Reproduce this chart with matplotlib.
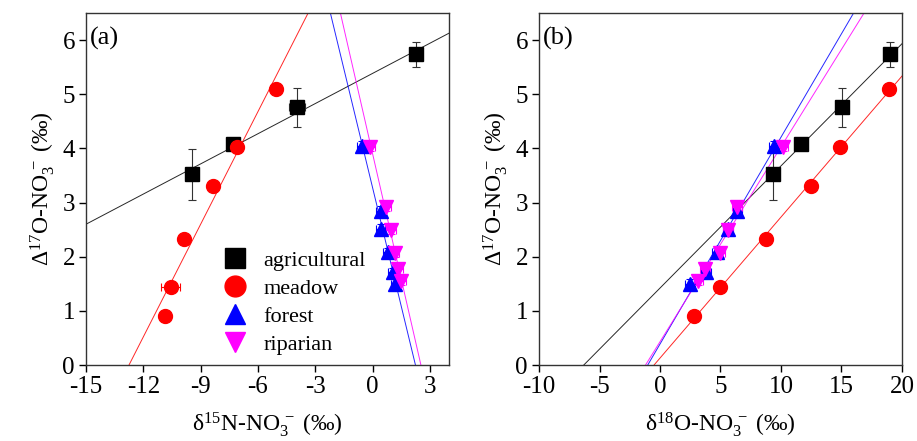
import numpy as np
import matplotlib
matplotlib.use("Agg")
import matplotlib.pyplot as plt

plt.rcParams['font.family'] = ['Liberation Serif', 'DejaVu Serif']
plt.rcParams['mathtext.fontset'] = 'custom'
plt.rcParams['mathtext.rm'] = 'Liberation Serif'
plt.rcParams['mathtext.it'] = 'Liberation Serif:italic'
plt.rcParams['axes.unicode_minus'] = False

# ---- data ----
groups = ['agricultural', 'meadow', 'forest', 'riparian']
colors = ['black', 'red', 'blue', 'magenta']
markers = ['s', 'o', '^', 'v']

# Delta17O values (shared by both panels)
agri_d17 = [3.52, 4.09, 4.76, 5.74]
mead_d17 = [0.91, 1.45, 2.33, 3.31, 4.03, 5.10]
fore_d17 = [4.05, 2.85, 2.52, 2.08, 1.72, 1.50]
ripa_d17 = [4.03, 2.92, 2.50, 2.07, 1.77, 1.55]

# d15N values (panel a)
agri_d15 = [-9.45, -7.32, -3.97, 2.25]
mead_d15 = [-10.86, -10.57, -9.87, -8.33, -7.11, -5.05]
fore_d15 = [-0.55, 0.45, 0.42, 0.82, 1.05, 1.20]
ripa_d15 = [-0.13, 0.72, 0.98, 1.15, 1.35, 1.50]

# d18O values (panel b)
agri_d18 = [9.35, 11.63, 15.05, 19.04]
mead_d18 = [2.83, 4.95, 8.80, 12.46, 14.86, 18.93]
fore_d18 = [9.45, 6.40, 5.64, 4.68, 3.80, 2.48]
ripa_d18 = [10.18, 6.39, 5.64, 4.96, 3.72, 3.17]

# error bars
agri_d17_err = [0.47, 0.05, 0.36, 0.23]
agri_d15_err = [0.1, 0.1, 0.42, 0.1]
agri_d18_err = [0.5, 0.2, 0.3, 0.2]
mead_d17_err = [0.05, 0.05, 0.08, 0.05, 0.05, 0.05]
mead_d15_err = [0.1, 0.5, 0.2, 0.1, 0.2, 0.1]
mead_d18_err = [0.1, 0.1, 0.4, 0.1, 0.1, 0.1]
small_y_err = [0.08] * 6
small_x_err_a = [0.25] * 6
small_x_err_b = [0.4] * 6

fig = plt.figure(figsize=(9.17, 4.41), dpi=100)
axa = fig.add_axes([0.0938, 0.1723, 0.3958, 0.798])
axb = fig.add_axes([0.5878, 0.1723, 0.3958, 0.798])

def style(ax, xlim, xticks):
    ax.set_xlim(*xlim)
    ax.set_ylim(0, 6.5)
    ax.set_xticks(xticks)
    ax.set_yticks(range(0, 7))
    ax.tick_params(direction='out', length=5, width=1, labelsize=18,
                   top=False, right=False, pad=3)
    for s in ax.spines.values():
        s.set_linewidth(1.0)
        s.set_color('#333333')

def draw(ax, xs, ys, xerrs, yerrs, xlim):
    xx = np.linspace(xlim[0] - 5, xlim[1] + 5, 200)
    for i, (x, y, xe, ye) in enumerate(zip(xs, ys, xerrs, yerrs)):
        c = colors[i]
        k, b = np.polyfit(x, y, 1)
        ax.plot(xx, k * xx + b, color=c, lw=0.7, alpha=0.85, zorder=1)
        ecol = '#333333' if c == 'black' else c
        ms = 10 if markers[i] == 'o' else 10
        ax.errorbar(x, y, xerr=xe, yerr=ye, fmt=markers[i], color=c,
                    ecolor=ecol, elinewidth=0.8, capsize=3, capthick=0.8,
                    ms=ms, mec=c, label=groups[i], zorder=3)

draw(axa, [agri_d15, mead_d15, fore_d15, ripa_d15],
     [agri_d17, mead_d17, fore_d17, ripa_d17],
     [agri_d15_err, mead_d15_err, small_x_err_a, small_x_err_a],
     [agri_d17_err, mead_d17_err, small_y_err, small_y_err], (-15, 4))
draw(axb, [agri_d18, mead_d18, fore_d18, ripa_d18],
     [agri_d17, mead_d17, fore_d17, ripa_d17],
     [agri_d18_err, mead_d18_err, small_x_err_b, small_x_err_b],
     [agri_d17_err, mead_d17_err, small_y_err, small_y_err], (-10, 20))

style(axa, (-15, 4), [-15, -12, -9, -6, -3, 0, 3])
style(axb, (-10, 20), [-10, -5, 0, 5, 10, 15, 20])

ylab = r'$\mathrm{\Delta^{17}O}$-$\mathrm{NO_3^{\,-}}$ (‰)'
axa.set_ylabel(ylab, fontsize=17, labelpad=4)
axb.set_ylabel(ylab, fontsize=17, labelpad=4)
axa.set_xlabel(r'$\mathrm{\delta^{15}N}$-$\mathrm{NO_3^{\,-}}$ (‰)', fontsize=17, labelpad=9)
axb.set_xlabel(r'$\mathrm{\delta^{18}O}$-$\mathrm{NO_3^{\,-}}$ (‰)', fontsize=17, labelpad=9)

axa.text(0.01, 0.96, '(a)', transform=axa.transAxes, fontsize=19, va='top')
axb.text(0.01, 0.96, '(b)', transform=axb.transAxes, fontsize=19, va='top')

handles, labels = axa.get_legend_handles_labels()
handles = [h[0] for h in handles]
axa.legend(handles, labels, loc='upper left', bbox_to_anchor=(0.33, 0.37),
           frameon=False, fontsize=16, markerscale=1.5, handlelength=1.2,
           handletextpad=0.7, labelspacing=0.33, borderpad=0.2)

fig.savefig('out.png', dpi=100)
